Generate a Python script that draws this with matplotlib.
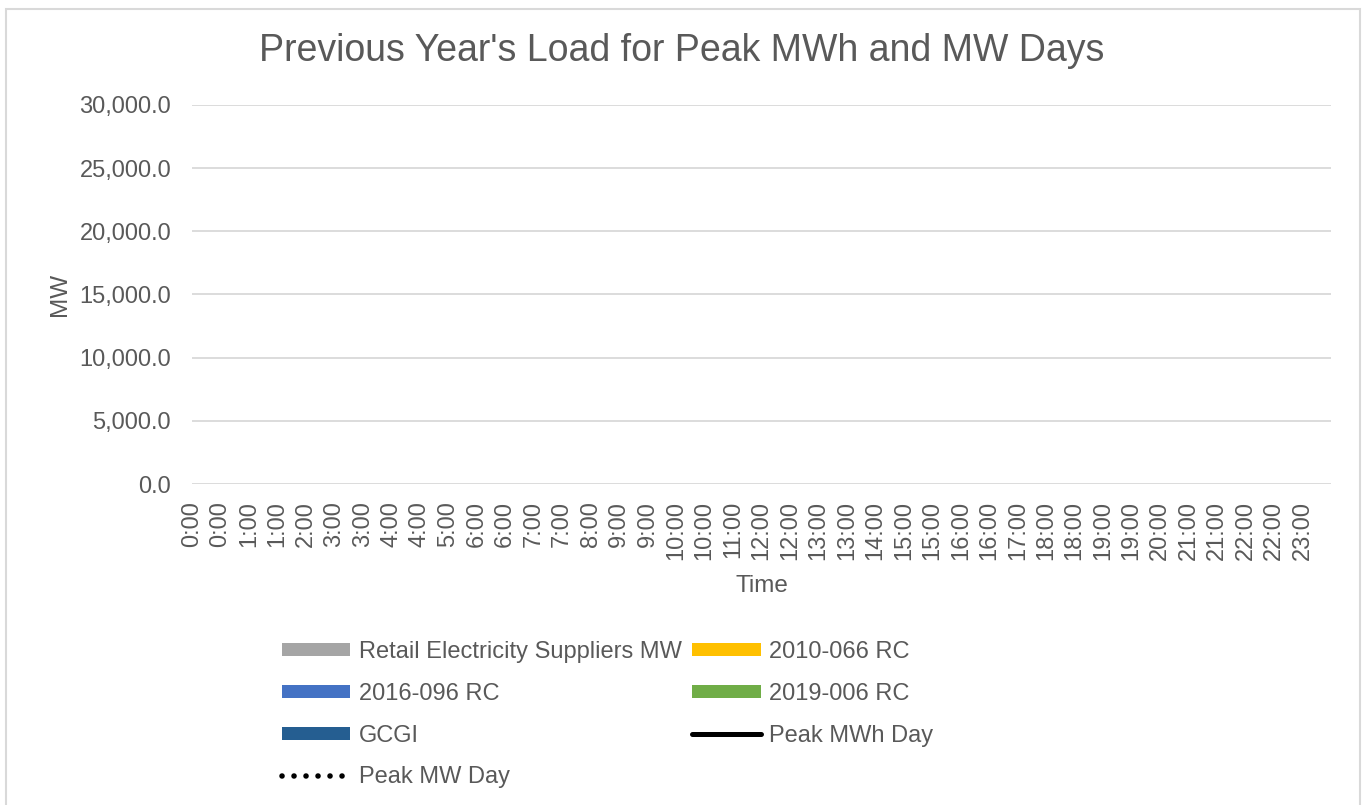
import numpy as np
import matplotlib.pyplot as plt
from matplotlib.ticker import StrMethodFormatter
from matplotlib.patches import Rectangle

plt.rcParams['font.family'] = ['Liberation Sans', 'DejaVu Sans']

#category labels along the time axis
time_labels = ["0:00", "0:00", "1:00", "1:00", "2:00", "3:00", "3:00", "4:00", "4:00", "5:00",
               "6:00", "6:00", "7:00", "7:00", "8:00", "9:00", "9:00", "10:00", "10:00", "11:00",
               "12:00", "12:00", "13:00", "13:00", "14:00", "15:00", "15:00", "16:00", "16:00", "17:00",
               "18:00", "18:00", "19:00", "19:00", "20:00", "21:00", "21:00", "22:00", "22:00", "23:00"]

#the chart has no values plotted, so every series is empty
retail_mw = []
rc_2010_066 = []
rc_2016_096 = []
rc_2019_006 = []
gcgi = []
peak_mwh_day = []
peak_mw_day = []

y_ticks = [0, 5000, 10000, 15000, 20000, 25000, 30000]

text_col = '#595959'
grid_col = '#D9D9D9'

fig = plt.figure(figsize=(13.64, 8.05), dpi=100)
ax = fig.add_axes([192/1364, 1 - 484/805, (1331 - 192)/1364, (484 - 105)/805])

#stacked areas
x = np.arange(len(time_labels))
stack = [(retail_mw, '#A5A5A5', 'Retail Electricity Suppliers MW'),
         (rc_2010_066, '#FFC000', '2010-066 RC'),
         (rc_2016_096, '#4472C4', '2016-096 RC'),
         (rc_2019_006, '#70AD47', '2019-006 RC'),
         (gcgi, '#255E91', 'GCGI')]
handles = {}
base = np.zeros(0)
for vals, col, name in stack:
    v = np.array(vals, dtype=float)
    top = base[:len(v)] + v
    handles[name] = ax.fill_between(x[:len(v)], base[:len(v)], top, color=col, lw=0, label=name)
    base = top

pm = np.array(peak_mwh_day, dtype=float)
handles['Peak MWh Day'], = ax.plot(x[:len(pm)], pm, color='black', lw=3.6,
                                   solid_capstyle='round', label='Peak MWh Day')
pw = np.array(peak_mw_day, dtype=float)
handles['Peak MW Day'], = ax.plot(x[:len(pw)], pw, color='black', lw=4.0,
                                  linestyle=(0, (0.01, 2.15)), dash_capstyle='round',
                                  label='Peak MW Day')

ax.set_xlim(0, len(time_labels))
ax.set_ylim(0, 30000)
ax.set_xticks(x)
ax.set_xticklabels(time_labels, rotation=90, va='top', ha='center')
ax.set_yticks(y_ticks)
ax.yaxis.set_major_formatter(StrMethodFormatter('{x:,.1f}'))
ax.tick_params(axis='both', length=0, labelsize=17, labelcolor=text_col)
ax.tick_params(axis='y', pad=15)
ax.tick_params(axis='x', pad=12)
ax.grid(axis='y', color=grid_col, lw=1.3)
ax.set_axisbelow(True)
for s in ['top', 'right', 'left', 'bottom']:
    ax.spines[s].set_visible(False)

ax.set_xlabel('Time', fontsize=17.5, color=text_col, labelpad=11)
ax.set_ylabel('MW', fontsize=17.5, color=text_col, labelpad=6)

fig.text(0.5, 1 - 51/805, "Previous Year's Load for Peak MWh and MW Days",
         fontsize=27, color=text_col, ha='center', va='center')

#legend, column-first order
order = ['Retail Electricity Suppliers MW', '2016-096 RC', 'GCGI', 'Peak MW Day',
         '2010-066 RC', '2019-006 RC', 'Peak MWh Day']
leg = fig.legend([handles[k] for k in order], order, ncol=2, loc='upper left',
                 bbox_to_anchor=(282/1364, 1 - 641/805), frameon=False,
                 fontsize=17, handlelength=2.9, handleheight=0.5,
                 handletextpad=0.35, columnspacing=0.45, labelspacing=0.84,
                 borderpad=0, borderaxespad=0)
for t in leg.get_texts():
    t.set_color(text_col)

#outer chart border
fig.patches.append(Rectangle((6/1364, -0.1), (1360 - 6)/1364, 1.1 - 9/805,
                             transform=fig.transFigure, fill=False,
                             edgecolor=grid_col, lw=1.5))

fig.savefig('out.png', dpi=100)
